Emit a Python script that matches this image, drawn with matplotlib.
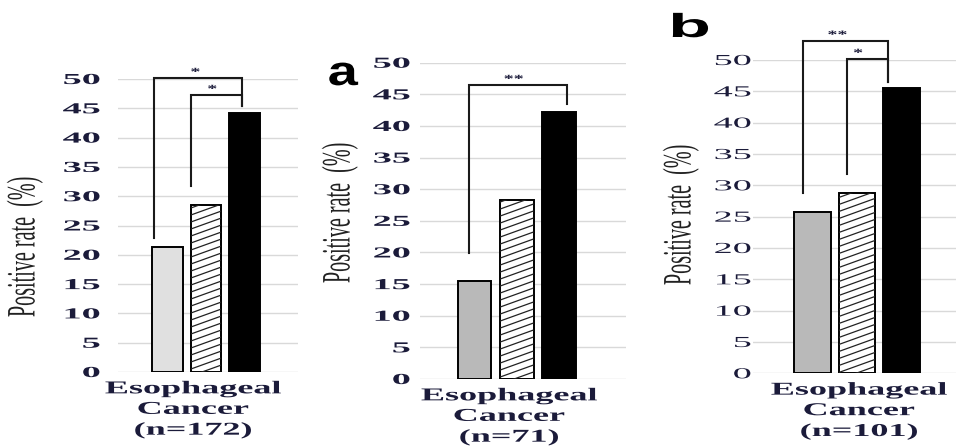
import matplotlib
matplotlib.use("Agg")
import matplotlib.pyplot as plt
import numpy as np
from matplotlib.collections import LineCollection
from matplotlib.patheffects import AbstractPathEffect
from matplotlib.transforms import Affine2D

# ---------------- data ----------------
group_labels = ["Esophageal\nCancer\n(n=172)",
                "Esophageal\nCancer\n(n=71)",
                "Esophageal\nCancer\n(n=101)"]
panel_letters = ["", "a", "b"]
rate_total = [21.3, 28.5, 44.2]
rate_a = [15.5, 28.3, 42.2]
rate_b = [25.7, 28.8, 45.5]
y_ticks = [0, 5, 10, 15, 20, 25, 30, 35, 40, 45, 50]
sig_total = [(0, 2, "*"), (1, 2, "*")]
sig_a = [(0, 2, "**")]
sig_b = [(0, 2, "**"), (1, 2, "*")]
y_label = "Positive rate  (%)"

W, H, DPI = 956, 446, 100
INK = "#1b1b3a"


class Stretch(AbstractPathEffect):
    """Widen glyph outlines horizontally around a chosen anchor."""

    def __init__(self, sx, anchor="center"):
        super().__init__()
        self.sx = sx
        self.anchor = anchor

    def draw_path(self, renderer, gc, tpath, affine, rgbFace=None):
        ext = tpath.get_extents(affine)
        if self.anchor == "right":
            cx = ext.x1
        elif self.anchor == "left":
            cx = ext.x0
        else:
            cx = 0.5 * (ext.x0 + ext.x1)
        tr = affine + Affine2D().translate(-cx, 0).scale(self.sx, 1).translate(cx, 0)
        renderer.draw_path(gc, tpath, tr, rgbFace)


def px_rect(left, right, top, bottom):
    return [left / W, 1 - bottom / H, (right - left) / W, (bottom - top) / H]


panels = [
    dict(values=rate_total, sig=sig_total, label=group_labels[0], letter=panel_letters[0],
         box=(118, 298, 79, 372), xlim=(-1.29, 3.39), width=0.8, first="#e0e0e0",
         pad=13, tick_weight="bold", xlab_x=0.66, ylab=(25, 247),
         brackets=[dict(dl=-0.35, dr=-0.06, top=50.2, gl=1.6, gr=1.2, sdx=-2),
                   dict(dl=-0.40, dr=-0.06, top=47.3, gl=3.2, gr=1.2, sdx=-3)]),
    dict(values=rate_a, sig=sig_a, label=group_labels[1], letter=panel_letters[1],
         box=(420, 626, 62.7, 379), xlim=(-1.29, 3.59), width=0.8, first="#b9b9b9",
         pad=7.2, tick_weight="bold", xlab_x=0.82, ylab=(340, 213),
         letter_pos=(343, 85), letter_size=30, letter_sx=1.3,
         brackets=[dict(dl=-0.13, dr=0.19, top=46.5, gl=4.4, gr=1.3, sdx=-3)]),
    dict(values=rate_b, sig=sig_b, label=group_labels[2], letter=panel_letters[2],
         box=(753, 956, 60, 373.3), xlim=(-1.34, 3.22), width=0.82, first="#b9b9b9",
         pad=1.5, tick_weight="normal", xlab_x=1.04, ylab=(681, 215),
         letter_pos=(690, 37), letter_size=24, letter_sx=2.1,
         brackets=[dict(dl=-0.21, dr=-0.30, top=53.1, gl=3.1, gr=1.0, sdx=-6),
                   dict(dl=-0.22, dr=-0.30, top=50.2, gl=3.0, gr=1.0, sdx=-7)]),
]

fig = plt.figure(figsize=(W / DPI, H / DPI), dpi=DPI)

for p in panels:
    ax = fig.add_axes(px_rect(*p["box"]))
    vals = p["values"]
    xs = np.arange(len(vals))
    colors = [p["first"], "white", "black"]
    bars = ax.bar(xs, vals, width=p["width"], color=colors, edgecolor="black",
                  linewidth=1.4, zorder=2)

    ax.set_xlim(*p["xlim"])
    ax.set_ylim(0, 50)
    for s in ax.spines.values():
        s.set_visible(False)
    ax.yaxis.grid(True, color="#d9d9d9", linewidth=1.0)
    ax.set_axisbelow(True)

    # shallow diagonal hatching on the middle bar
    l, r, t, b = p["box"]
    sx = (r - l) / (p["xlim"][1] - p["xlim"][0])
    sy = (b - t) / 50.0
    hb = bars[1]
    x0 = hb.get_x()
    w_px = hb.get_width() * sx
    h_px = hb.get_height() * sy
    slope, gap = 0.36, 7.0
    segs = []
    for c in np.arange(-slope * w_px, h_px + gap, gap):
        segs.append([(x0, c / sy), (x0 + w_px / sx, (c + slope * w_px) / sy)])
    lc = LineCollection(segs, colors="#222222", linewidths=0.9, zorder=2.5)
    ax.add_collection(lc)
    lc.set_clip_path(hb)

    # y ticks
    ax.set_yticks(y_ticks)
    ax.set_yticklabels([str(v) for v in y_ticks], family="Liberation Serif",
                       fontsize=11, weight=p["tick_weight"], color=INK)
    ax.tick_params(axis="y", length=0, pad=p["pad"])
    for lab in ax.get_yticklabels():
        lab.set_path_effects([Stretch(2.5, "right")])

    # category label
    ax.set_xticks([p["xlab_x"]])
    ax.set_xticklabels([p["label"]], family="Liberation Serif", fontsize=13,
                       weight="bold", color=INK, linespacing=1.27)
    ax.tick_params(axis="x", length=0, pad=6)
    for lab in ax.get_xticklabels():
        lab.set_path_effects([Stretch(2.0, "center")])

    # significance brackets
    for (i, j, mark), br in zip(p["sig"], p["brackets"]):
        xl = xs[i] + br["dl"]
        xr = xs[j] + br["dr"]
        yl = vals[i] + br["gl"]
        yr = vals[j] + br["gr"]
        top = br["top"]
        ax.plot([xl, xl, xr, xr], [yl, top, top, yr], color="#1a1a1a",
                linewidth=1.5, clip_on=False, zorder=4, solid_joinstyle="miter")
        ax.annotate(mark, xy=((xl + xr) / 2, top), xytext=(br["sdx"], 0.5),
                    textcoords="offset points", ha="center", va="bottom",
                    family="Liberation Serif", fontsize=8, weight="bold",
                    color=INK, annotation_clip=False,
                    path_effects=[Stretch(1.8)])

    # axis title
    yx, yy = p["ylab"]
    fig.text(yx / W, 1 - yy / H, y_label, rotation=90, ha="center", va="center",
             family="Liberation Serif", fontsize=14.5, color="#222222",
             path_effects=[Stretch(2.0)])

    if p["letter"]:
        lx, ly = p["letter_pos"]
        fig.text(lx / W, 1 - ly / H, p["letter"], ha="center", va="baseline",
                 family="Liberation Sans", weight="bold", fontsize=p["letter_size"],
                 color="black", path_effects=[Stretch(p["letter_sx"])])

fig.savefig("out.png", dpi=DPI)
